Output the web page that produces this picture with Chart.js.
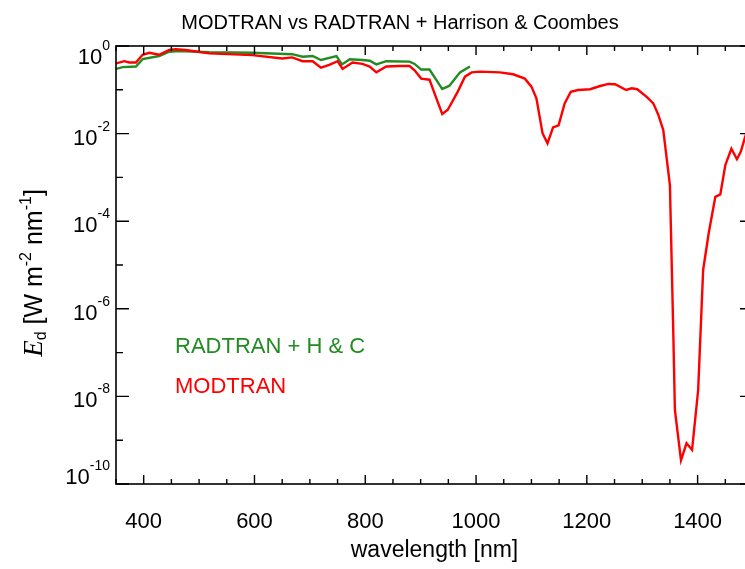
<!DOCTYPE html>
<html>
<head>
<meta charset="utf-8">
<script src="https://cdn.jsdelivr.net/npm/chart.js@4"></script>
<style>
  html, body { margin: 0; padding: 0; background: #fff; overflow: hidden; }
  #wrap { width: 800px; height: 569px; }
</style>
</head>
<body>
<div id="wrap"><canvas id="c" width="800" height="569"></canvas></div>
<script>
// ---- data ----
const modtranWavelength = [350,365,374,386,398,410,428,446,458,476,518,596,650,668,687,705,720,735,750,759,777,795,808,820,838,862,880,889,901,916,925,939,949,967,980,992,1007,1043,1067,1088,1100,1109,1120,1129,1139,1149,1160,1171,1184,1206,1224,1239,1251,1271,1281,1291,1308,1320,1329,1338,1350,1356,1359,1370,1380,1390,1401,1410,1420,1432,1441,1450,1461,1471,1478,1486,1500];
const modtranEd = [0.40,0.45,0.42,0.42,0.63,0.70,0.63,0.81,0.84,0.81,0.68,0.62,0.52,0.55,0.45,0.45,0.32,0.37,0.45,0.30,0.42,0.39,0.34,0.25,0.34,0.35,0.35,0.28,0.18,0.17,0.083,0.028,0.035,0.091,0.20,0.25,0.26,0.25,0.226,0.18,0.118,0.064,0.0102,0.006,0.0139,0.0155,0.049,0.090,0.099,0.103,0.122,0.136,0.134,0.099,0.108,0.103,0.069,0.049,0.027,0.012,6.7e-4,3.3e-7,4.9e-9,3.5e-10,8.5e-10,6e-10,1.4e-8,7.7e-6,5.3e-5,3.6e-4,4.1e-4,1.9e-3,4.5e-3,2.6e-3,3.9e-3,8.5e-3,0.025];

const radtranWavelength = [350,362,386,398,428,446,464,518,596,668,687,705,720,748,758,772,795,808,820,838,880,889,901,916,939,952,971,989];
const radtranEd = [0.30,0.33,0.34,0.50,0.59,0.74,0.77,0.72,0.70,0.65,0.57,0.59,0.48,0.59,0.38,0.50,0.48,0.46,0.38,0.45,0.44,0.39,0.29,0.29,0.104,0.124,0.25,0.34];

const xTickLabels = [400,600,800,1000,1200,1400];
const yTickExponents = [0,-2,-4,-6,-8,-10];
const seriesNames = ['RADTRAN + H & C', 'MODTRAN'];
const titleText = 'MODTRAN vs RADTRAN + Harrison & Coombes';
const xTitle = 'wavelength [nm]';

const RED = '#ff0000';
const GREEN = 'rgb(34,139,34)';
const SANS = '"Liberation Sans", Arial, Helvetica, sans-serif';

function pts(xs, ys) { return xs.map((x, i) => ({ x: x, y: ys[i] })); }

const decor = {
  id: 'decor',
  afterDraw(chart) {
    const ctx = chart.ctx;
    const a = chart.chartArea;
    const xs = chart.scales.x, ys = chart.scales.y;
    ctx.save();
    // frame
    ctx.strokeStyle = '#000';
    ctx.lineWidth = 1.6;
    ctx.strokeRect(a.left, a.top, a.right - a.left, a.bottom - a.top);
    // x ticks (top and bottom, inward)
    ctx.lineWidth = 1.4;
    for (let v = 350; v <= 1500; v += 50) {
      const px = xs.getPixelForValue(v);
      const len = (v % 200 === 0) ? 9 : 5;
      ctx.beginPath();
      ctx.moveTo(px, a.bottom); ctx.lineTo(px, a.bottom - len);
      ctx.moveTo(px, a.top); ctx.lineTo(px, a.top + len);
      ctx.stroke();
    }
    // y ticks (left and right, inward)
    for (let e = 0; e >= -10; e--) {
      const py = ys.getPixelForValue(Math.pow(10, e));
      const len = (e % 2 === 0) ? 13 : 7;
      ctx.beginPath();
      ctx.moveTo(a.left, py); ctx.lineTo(a.left + len, py);
      ctx.moveTo(a.right, py); ctx.lineTo(a.right - len, py);
      ctx.stroke();
    }
    ctx.fillStyle = '#000';
    // x tick labels
    ctx.font = '22px ' + SANS;
    ctx.textAlign = 'center';
    ctx.textBaseline = 'alphabetic';
    xTickLabels.forEach(v => {
      ctx.fillText(String(v), xs.getPixelForValue(v), a.bottom + 44);
    });
    // y tick labels 10^n
    yTickExponents.forEach(e => {
      const py = ys.getPixelForValue(Math.pow(10, e));
      let cy = Math.min(Math.max(py + 3, a.top + 10), a.bottom - 8);
      const sup = String(e);
      ctx.font = '14px ' + SANS;
      const ws = ctx.measureText(sup).width;
      ctx.font = '22px ' + SANS;
      const wb = ctx.measureText('10').width;
      const right = a.left - 6;
      ctx.textAlign = 'left';
      ctx.textBaseline = 'alphabetic';
      ctx.fillText('10', right - ws - wb, cy + 8);
      ctx.font = '14px ' + SANS;
      ctx.fillText(sup, right - ws, cy - 6);
    });
    // title
    ctx.font = '20px ' + SANS;
    ctx.textAlign = 'center';
    ctx.fillText(titleText, chart.width / 2, 29);
    // x title
    ctx.font = '23px ' + SANS;
    ctx.fillText(xTitle, (a.left + a.right) / 2, 557);
    // legend
    ctx.textAlign = 'left';
    ctx.textBaseline = 'middle';
    ctx.font = '22px ' + SANS;
    ctx.fillStyle = GREEN;
    ctx.fillText(seriesNames[0], 175, 347);
    ctx.fillStyle = RED;
    ctx.fillText(seriesNames[1], 175, 387);
    // y title (rotated)
    ctx.fillStyle = '#000';
    ctx.translate(42, 273);
    ctx.rotate(-Math.PI / 2);
    const parts = [
      { t: 'E', f: 'italic 27px "Liberation Serif", "Times New Roman", serif', dy: 0 },
      { t: 'd', f: '16px ' + SANS, dy: 4 },
      { t: ' [W m', f: '25px ' + SANS, dy: 0 },
      { t: '-2', f: '16px ' + SANS, dy: -11 },
      { t: ' nm', f: '25px ' + SANS, dy: 0 },
      { t: '-1', f: '16px ' + SANS, dy: -11 },
      { t: ']', f: '25px ' + SANS, dy: 0 }
    ];
    let total = 0;
    parts.forEach(p => { ctx.font = p.f; p.w = ctx.measureText(p.t).width; total += p.w; });
    let x0 = -total / 2;
    ctx.textAlign = 'left';
    ctx.textBaseline = 'alphabetic';
    parts.forEach(p => { ctx.font = p.f; ctx.fillText(p.t, x0, p.dy); x0 += p.w; });
    ctx.restore();
  }
};

new Chart(document.getElementById('c'), {
  type: 'line',
  data: {
    datasets: [
      { label: seriesNames[1], data: pts(modtranWavelength, modtranEd), borderColor: RED, borderWidth: 2.4, pointRadius: 0, tension: 0, fill: false },
      { label: seriesNames[0], data: pts(radtranWavelength, radtranEd), borderColor: GREEN, borderWidth: 2.4, pointRadius: 0, tension: 0, fill: false }
    ]
  },
  options: {
    responsive: false,
    animation: false,
    layout: { padding: { left: 116, top: 46, right: 47, bottom: 85 } },
    plugins: { legend: { display: false }, title: { display: false }, tooltip: { enabled: false } },
    scales: {
      x: { type: 'linear', min: 350, max: 1500, display: false },
      y: { type: 'logarithmic', min: 1e-10, max: 1, display: false }
    }
  },
  plugins: [decor]
});
</script>
</body>
</html>
